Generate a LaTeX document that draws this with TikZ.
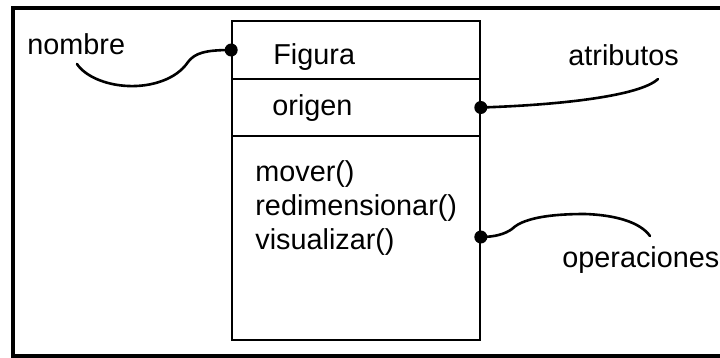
\documentclass[tikz,border=0pt]{standalone}
\usepackage{fontspec}
\setmainfont{Liberation Sans}
\begin{document}
\begin{tikzpicture}[x=0.5pt,y=-0.5pt,
  lbl/.style={anchor=base west,inner sep=0pt,font=\fontsize{14.4pt}{16pt}\selectfont},
  compart/.style={draw,line width=0.8pt,minimum width=124pt,inner sep=0pt},
  callout/.style={line width=1.3pt,line cap=round},
  pin/.style={fill,circle,inner sep=0pt,minimum size=6.5pt}]
  \useasboundingbox (0,0) rectangle (720,358);
  \clip (0,0) rectangle (720,358);
  % outer frame (open on the right)
  \draw[line width=1.6pt] (740,8) -- (13,8) -- (13,356) -- (740,356);

  % class box compartments
  \node[compart,minimum height=29pt] (namecomp) at (356,50) {};
  \node[compart,minimum height=28.5pt] (attrcomp) at (356,107.5) {};
  \node[compart,minimum height=102pt] (opscomp) at (356,238) {};

  % compartment contents
  \node[lbl] (figura) at (273,65) {Figura};
  \node[lbl] (origen) at (272,116) {origen};
  \node[lbl] (mover) at (255,182) {mover()};
  \node[lbl] (redim) at (255,216) {redimensionar()};
  \node[lbl] (visual) at (255,250) {visualizar()};

  % callout labels
  \node[lbl] (nombre) at (27,55) {nombre};
  \node[lbl] (atributos) at (568,66) {atributos};
  \node[lbl] (operaciones) at (562,268) {operaciones};

  % free ends of the callouts
  \coordinate (nombreEnd) at (77,64);
  \coordinate (atribEnd) at (658,79);
  \coordinate (operEnd) at (650,236);

  % pins on the box border
  \node[pin] (pinName) at (namecomp.west) {};
  \node[pin] (pinAttr) at (attrcomp.east) {};
  \node[pin] (pinOps) at ([yshift=0.5pt]opscomp.east) {};

  % callout curves
  \draw[callout] (pinName.center) .. controls (205,50) and (195,53) .. (188,62)
     .. controls (176,80) and (150,87) .. (128,86)
     .. controls (105,85) and (85,76) .. (nombreEnd);
  \draw[callout] (pinAttr.center) .. controls (560,105) and (640,96) .. (atribEnd);
  \draw[callout] (pinOps.center) .. controls (495,237) and (505,234) .. (512,229)
     .. controls (525,216) and (560,214) .. (585,214)
     .. controls (615,215) and (640,222) .. (operEnd);
\end{tikzpicture}
\end{document}
